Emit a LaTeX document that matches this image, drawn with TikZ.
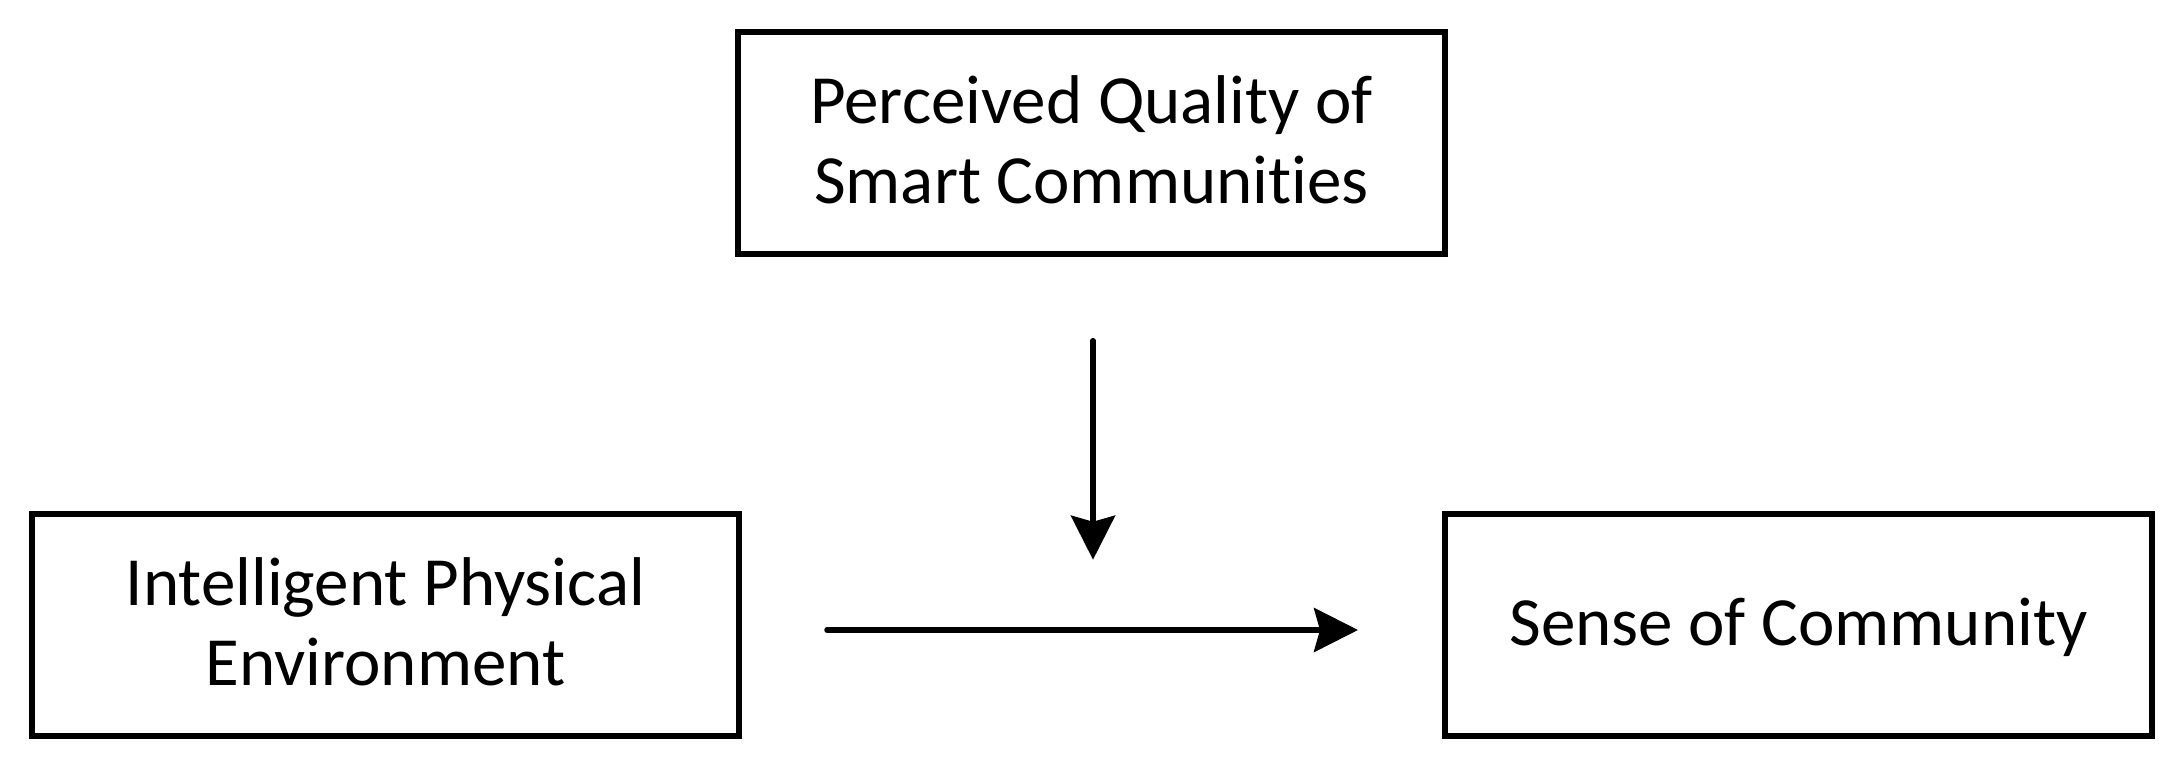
\documentclass[tikz,border=0pt]{standalone}
\usepackage{fontspec}
\setmainfont{Carlito}[Ligatures={NoCommon}]
\usetikzlibrary{arrows.meta,calc}
\begin{document}
\begin{tikzpicture}[x=1pt,y=-1pt,
  box/.style={draw, line width=6pt, minimum width=707pt, minimum height=222pt, inner sep=0pt, align=center, text height=128pt, text depth=6pt, font=\fontsize{69}{80}\selectfont},
  oneline/.style={text height=48pt},
  conn/.style={line width=5.5pt, line cap=round, -{Stealth[length=44pt,width=44pt,inset=6pt]}}]
\useasboundingbox (0,0) rectangle (2182,768);
\node[box] (Q) at (1091.5,142.7) {Perceived Quality of\\Smart Communities};
\node[box] (I) at (385.5,624.6) {Intelligent Physical\\Environment};
\node[box,oneline] (S) at (1798.5,624.6) {Sense of Community};
\coordinate (vtop) at ($(Q.south)+(1.5,84)$);
\coordinate (vbot) at ($(Q.south)+(1.5,303)$);
\coordinate (hl) at ($(I.east)+(85,5.4)$);
\coordinate (hr) at ($(S.west)+(-84,5.4)$);
\draw[conn] (vtop) -- (vbot);
\draw[conn] (hl) -- (hr);
\end{tikzpicture}
\end{document}
